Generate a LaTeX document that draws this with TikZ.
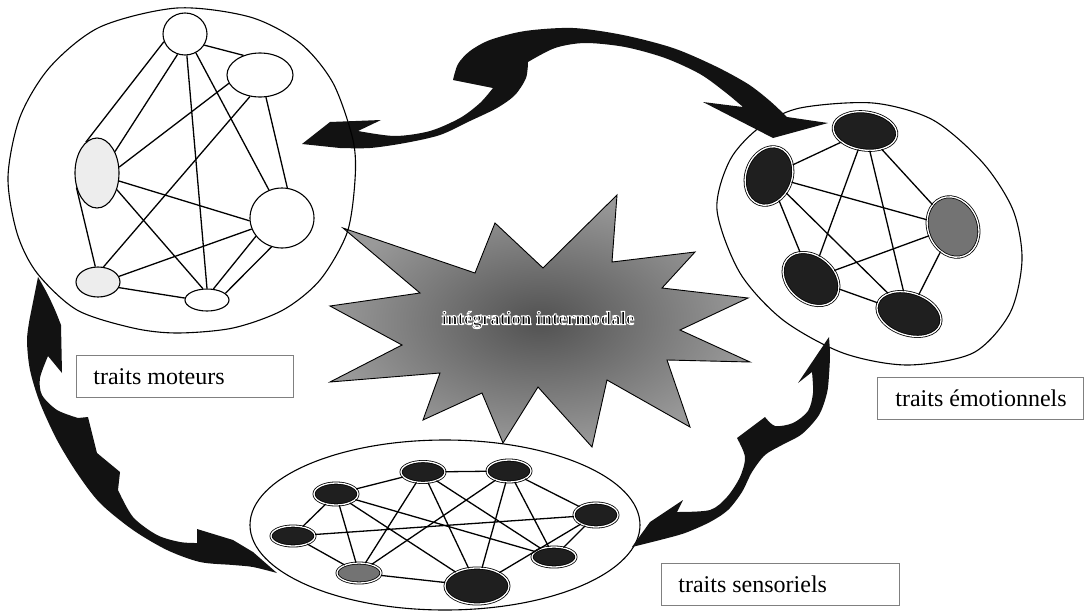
\documentclass[tikz,border=0pt]{standalone}
\usepackage{fontspec}
\setmainfont{Liberation Serif}
\usetikzlibrary{shapes.geometric}
\begin{document}
\begin{tikzpicture}[x=1pt,y=-1pt,
  cont/.style={line width=1.1pt},
  tl/.style={ellipse, draw, line width=1.1pt, fill=white, inner sep=0pt},
  tlspeck/.style={tl, fill=black!7},
  dk/.style={ellipse, draw=black, line width=0.8pt, double=white, double distance=1.3pt, fill=black!88, inner sep=0pt},
  gy/.style={dk, fill=black!55},
  ln/.style={line width=1.3pt},
  arr/.style={fill=black!93},
  lab/.style={draw=black!50, line width=0.8pt, fill=white, inner xsep=17pt, inner ysep=0pt, minimum height=42pt, anchor=north west, font=\fontsize{24}{28}\selectfont}
]
\useasboundingbox (0,0) rectangle (1085,611);

% containers
\draw[cont] plot[smooth cycle] coordinates {(800,108) (873,103) (933,120) (983,163) (1013,210) (1022,260) (1010,313) (973,353) (907,365) (843,353) (783,320) (740,273) (717,210) (730,160) (760,127)};
\draw[cont] (445,525) ellipse [x radius=195, y radius=85];

% star
\shade[draw=black, line width=0.9pt, inner color=black!68, outer color=black!40]
 (330,306) -- (420,293) -- (343,228) -- (475,273) -- (495,223) -- (543,268) -- (617,195) -- (612,262) -- (695,252) -- (662,288) -- (748,298) -- (680,330) -- (750,362) -- (667,360) -- (690,427) -- (607,380) -- (592,447) -- (538,387) -- (503,443) -- (482,393) -- (423,420) -- (440,373) -- (330,382) -- (402,345) -- cycle;
\node[font=\bfseries\fontsize{19}{22}\selectfont, inner sep=0pt] (integ) at (538,320) {\special{pdf:literal direct 2 Tr 1 1 1 RG 1.0 w}intégration intermodale\special{pdf:literal direct 0 Tr 0 0 0 RG}};

% arrows
\fill[arr] (302,144) -- (330,122) -- (381,120) -- (358,131)
 -- plot[smooth] coordinates {(358,131) (395,136) (430,131) (460,118) (480,103) (493,88)}
 -- (453,80)
 -- plot[smooth] coordinates {(453,80) (458,64) (470,51) (490,40) (525,31) (573,28) (623,35) (673,48) (715,66) (748,84) (770,101) (787,117)}
 -- (828,123) -- (773,138) -- (703,102) -- (743,107)
 -- plot[smooth] coordinates {(743,107) (725,92) (700,74) (665,58) (625,47) (585,43) (555,48) (528,62)}
 -- plot[smooth] coordinates {(528,62) (526,78) (515,95) (497,108) (470,121) (440,135) (405,143) (370,148) (340,148)}
 -- cycle;
\fill[arr] (38,277) -- plot[smooth] coordinates {(38,277) (47,293) (55,310) (61,325)}
 -- (62,373) -- (48,356)
 -- plot[smooth] coordinates {(48,356) (40,378) (42,395) (57,410) (78,418)}
 -- (88,417) -- (97,453) -- (120,472) -- (118,490)
 -- plot[smooth] coordinates {(118,490) (133,517) (157,535) (180,542) (197,543)}
 -- (197,529) -- (233,540) -- (253,552) -- (277,573)
 -- plot[smooth] coordinates {(277,573) (253,567) (233,565) (200,562) (167,550) (133,530) (100,503) (77,473) (57,440) (40,403) (30,370) (27,340) (30,317)}
 -- cycle;
\fill[arr] (632,547) -- (650,522) -- (683,500) -- (677,512)
 -- plot[smooth] coordinates {(677,512) (710,510) (727,497) (740,477) (745,457) (737,438)}
 -- (765,417)
 -- plot[smooth] coordinates {(765,417) (775,426) (793,423) (808,411) (813,393) (812,372)}
 -- (798,383) -- (829,337)
 -- plot[smooth] coordinates {(829,337) (830,355) (829,375) (827,393) (819,415) (802,434) (782,445) (765,455) (752,472) (742,492) (728,510) (710,522) (685,533) (660,540) (640,545)}
 -- cycle;

% top-left container
\draw[cont] plot[smooth cycle] coordinates {(177,8) (250,17) (300,43) (333,83) (353,140) (355,180) (347,233) (320,280) (283,310) (233,328) (177,333) (133,328) (77,310) (37,273) (17,233) (8,177) (20,117) (50,67) (100,27)};

% top-left nodes
\node[tl, minimum width=44pt, minimum height=42pt] (tA) at (185,34) {};
\node[tl, minimum width=66pt, minimum height=44pt] (tB) at (260,75) {};
\node[tlspeck, minimum width=44pt, minimum height=70pt] (tC) at (97,173) {};
\node[tl, minimum width=64pt, minimum height=60pt] (tD) at (282,218) {};
\node[tlspeck, minimum width=44pt, minimum height=30pt] (tE) at (98,282) {};
\node[tl, minimum width=44pt, minimum height=22pt] (tF) at (207,300) {};
\draw[ln] (tC.110) -- (tA.200);
\draw[ln] (tC.50) -- (tA.250);
\draw[ln] (tA.275) -- (tF.90);
\draw[ln] (tA.300) -- (tD.115);
\draw[ln] (tA.330) -- (tB.130);
\draw[ln] (tC.15) -- (tB.195);
\draw[ln] (tB.245) -- (tE.70);
\draw[ln] (tB.285) -- (tD.80);
\draw[ln] (tC.340) -- (tD.185);
\draw[ln] (tC.320) -- (tF.110);
\draw[ln] (tC.215) -- (tE.100);
\draw[ln] (tE.15) -- (tD.200);
\draw[ln] (tE.345) -- (tF.175);
\draw[ln] (tD.215) -- (tF.60);
\draw[ln] (tD.250) -- (tF.20);

% right nodes
\node[dk, minimum width=64pt, minimum height=38pt, rotate=-8] (R1) at (865,131) {};
\node[dk, minimum width=46pt, minimum height=60pt, rotate=-20] (R2) at (769,176) {};
\node[gy, minimum width=50pt, minimum height=62pt, rotate=22] (R3) at (953,227) {};
\node[dk, minimum width=62pt, minimum height=46pt, rotate=-40] (R4) at (811,279) {};
\node[dk, minimum width=66pt, minimum height=42pt, rotate=-18] (R5) at (909,314) {};
\draw[ln] (R2) -- (R1);
\draw[ln] (R2) -- (R3);
\draw[ln] (R2) -- (R4);
\draw[ln] (R2) -- (R5);
\draw[ln] (R1) -- (R4);
\draw[ln] (R1) -- (R5);
\draw[ln] (R1) -- (R3);
\draw[ln] (R4) -- (R3);
\draw[ln] (R4) -- (R5);
\draw[ln] (R3) -- (R5);

% bottom nodes
\node[dk, minimum width=44pt, minimum height=22pt] (S1) at (336,494) {};
\node[dk, minimum width=44pt, minimum height=21pt] (S2) at (423,472) {};
\node[dk, minimum width=44pt, minimum height=22pt] (S3) at (509,471) {};
\node[dk, minimum width=44pt, minimum height=20pt] (S4) at (293,536) {};
\node[dk, minimum width=44pt, minimum height=24pt] (S5) at (596,515) {};
\node[gy, minimum width=44pt, minimum height=20pt] (S6) at (359,573) {};
\node[dk, minimum width=64pt, minimum height=36pt] (S7) at (477,586) {};
\node[dk, minimum width=44pt, minimum height=20pt] (S8) at (554,557) {};
\draw[ln] (S1) -- (S2);
\draw[ln] (S2) -- (S3);
\draw[ln] (S3) -- (S5);
\draw[ln] (S1) -- (S4);
\draw[ln] (S4) -- (S5);
\draw[ln] (S4) -- (S6);
\draw[ln] (S6) -- (S7);
\draw[ln] (S1) -- (S6);
\draw[ln] (S1) -- (S7);
\draw[ln] (S1) -- (S8);
\draw[ln] (S2) -- (S6);
\draw[ln] (S2) -- (S7);
\draw[ln] (S2) -- (S8);
\draw[ln] (S3) -- (S6);
\draw[ln] (S3) -- (S7);
\draw[ln] (S3) -- (S8);
\draw[ln] (S5) -- (S8);
\draw[ln] (S5) -- (S7);

% labels
\node[lab] (lmot) at (76,355) {\makebox[183pt][l]{traits moteurs}};
\node[lab, inner xsep=18pt] (lemo) at (877,377) {\makebox[170pt][l]{traits émotionnels}};
\node[lab] (lsen) at (661,563) {\makebox[204pt][l]{traits sensoriels}};
\end{tikzpicture}
\end{document}
